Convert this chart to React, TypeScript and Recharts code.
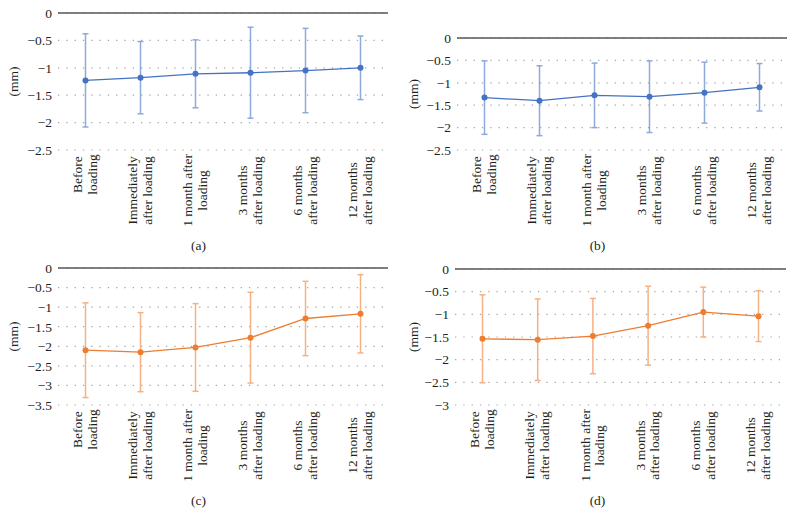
import React from "react";
import {
  LineChart,
  Line,
  XAxis,
  YAxis,
  CartesianGrid,
  ReferenceLine,
  ErrorBar,
} from "recharts";

const stages = [
  "Before\nloading",
  "Immediately\nafter loading",
  "1 month after\nloading",
  "3 months\nafter loading",
  "6 months\nafter loading",
  "12 months\nafter loading",
];

const meanA = [-1.23, -1.18, -1.11, -1.09, -1.05, -1.0];
const sdA = [0.85, 0.66, 0.62, 0.83, 0.77, 0.58];
const meanB = [-1.33, -1.4, -1.28, -1.31, -1.22, -1.1];
const sdB = [0.82, 0.78, 0.72, 0.8, 0.68, 0.53];
const meanC = [-2.1, -2.15, -2.03, -1.78, -1.29, -1.17];
const sdC = [1.21, 1.01, 1.12, 1.16, 0.95, 1.0];
const meanD = [-1.54, -1.56, -1.48, -1.25, -0.95, -1.04];
const sdD = [0.97, 0.9, 0.83, 0.87, 0.55, 0.56];

const ticks25 = [0, -0.5, -1, -1.5, -2, -2.5];
const ticks30 = [0, -0.5, -1, -1.5, -2, -2.5, -3];
const ticks35 = [0, -0.5, -1, -1.5, -2, -2.5, -3, -3.5];

const FONT = "'Liberation Serif', 'Times New Roman', serif";
const TEXT = "#231f20";
const BLUE = "#4472c4";
const BLUE_ERR = "#8eaadb";
const ORANGE = "#ed7d31";
const ORANGE_ERR = "#f4b183";

const fmt = (v: number) => (v === 0 ? "0" : "\u2212" + Math.abs(v));

// two-line rotated category labels, lines centred on each other
const StageTick = ({ x, y, payload }: any) => {
  const lines = String(payload.value).split("\n");
  const maxLen = Math.max(...lines.map((l) => l.length)) * 5.3;
  const cy = y + 6 + maxLen / 2;
  return (
    <g transform={`translate(${x},${cy}) rotate(-90)`}>
      {lines.map((l, i) => (
        <text
          key={i}
          x={0}
          y={(i - (lines.length - 1) / 2) * 14.5 + 4}
          textAnchor="middle"
          fontFamily={FONT}
          fontSize={13.5}
          fill={TEXT}
        >
          {l}
        </text>
      ))}
    </g>
  );
};

const MmLabel = ({ viewBox }: any) => {
  const cx = 13;
  const cy = viewBox.y + viewBox.height / 2;
  return (
    <text
      transform={`translate(${cx},${cy}) rotate(-90)`}
      textAnchor="middle"
      dominantBaseline="central"
      fontFamily={FONT}
      fontSize={13.5}
      fill={TEXT}
    >
      (mm)
    </text>
  );
};

interface PanelProps {
  left: number;
  top: number;
  width: number;
  yWidth: number;
  marginTop: number;
  marginRight: number;
  plotHeight: number;
  means: number[];
  sds: number[];
  ticks: number[];
  color: string;
  errColor: string;
  caption: string;
}

function Panel({
  left,
  top,
  width,
  yWidth,
  marginTop,
  marginRight,
  plotHeight,
  means,
  sds,
  ticks,
  color,
  errColor,
  caption,
}: PanelProps) {
  const data = stages.map((s, i) => ({ stage: s, mean: means[i], sd: sds[i] }));
  const xHeight = 90;
  const height = marginTop + plotHeight + xHeight;
  const minTick = ticks[ticks.length - 1];
  return (
    <div style={{ position: "absolute", left, top, width }}>
      <LineChart
        width={width}
        height={height}
        data={data}
        margin={{ top: marginTop, right: marginRight, left: 0, bottom: 0 }}
      >
        <CartesianGrid
          horizontal={true}
          vertical={false}
          stroke="#a6a6a6"
          strokeWidth={1.2}
          strokeDasharray="1.3 7"
        />
        <XAxis
          dataKey="stage"
          axisLine={false}
          tickLine={false}
          tickSize={0}
          tickMargin={0}
          interval={0}
          height={xHeight}
          padding={{ left: 27.5, right: 27.5 }}
          tick={<StageTick />}
        />
        <YAxis
          type="number"
          domain={[minTick, 0]}
          ticks={ticks}
          interval={0}
          width={yWidth}
          axisLine={false}
          tickLine={false}
          tickSize={4}
          tickMargin={2}
          tickFormatter={fmt}
          tick={{ fontFamily: FONT, fontSize: 13.5, fill: TEXT }}
          label={<MmLabel />}
        />
        <ReferenceLine y={0} stroke="#555" strokeWidth={1.5} />
        <Line
          type="linear"
          dataKey="mean"
          stroke={color}
          strokeWidth={1.3}
          dot={{ r: 3, fill: color, stroke: color, strokeWidth: 0 }}
          isAnimationActive={false}
        >
          <ErrorBar
            dataKey="sd"
            direction="y"
            width={3}
            stroke={errColor}
            strokeWidth={1.5}
            isAnimationActive={false}
          />
        </Line>
      </LineChart>
      <div
        style={{
          position: "absolute",
          left: 0,
          top: 238,
          width,
          textAlign: "center",
          fontFamily: FONT,
          fontSize: 13.5,
          lineHeight: "16px",
          color: TEXT,
        }}
      >
        {caption}
      </div>
    </div>
  );
}

export default function App() {
  return (
    <div
      style={{
        position: "absolute",
        left: 0,
        top: 0,
        width: 795,
        height: 526,
        background: "#fff",
        overflow: "hidden",
      }}
    >
      <Panel
        left={0}
        top={0}
        width={397}
        yWidth={58}
        marginTop={13}
        marginRight={9}
        plotHeight={137}
        means={meanA}
        sds={sdA}
        ticks={ticks25}
        color={BLUE}
        errColor={BLUE_ERR}
        caption="(a)"
      />
      <Panel
        left={400}
        top={0}
        width={395}
        yWidth={57}
        marginTop={38}
        marginRight={8}
        plotHeight={112}
        means={meanB}
        sds={sdB}
        ticks={ticks25}
        color={BLUE}
        errColor={BLUE_ERR}
        caption="(b)"
      />
      <Panel
        left={0}
        top={255}
        width={397}
        yWidth={58}
        marginTop={13}
        marginRight={9}
        plotHeight={137}
        means={meanC}
        sds={sdC}
        ticks={ticks35}
        color={ORANGE}
        errColor={ORANGE_ERR}
        caption="(c)"
      />
      <Panel
        left={400}
        top={255}
        width={395}
        yWidth={55}
        marginTop={14}
        marginRight={9}
        plotHeight={136}
        means={meanD}
        sds={sdD}
        ticks={ticks30}
        color={ORANGE}
        errColor={ORANGE_ERR}
        caption="(d)"
      />
    </div>
  );
}
